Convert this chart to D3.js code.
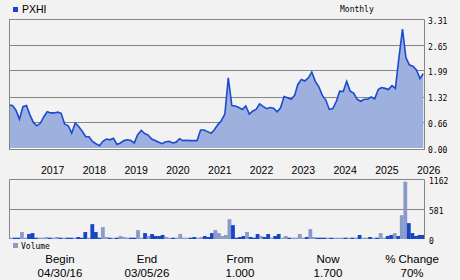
<!DOCTYPE html>
<html><head><meta charset="utf-8">
<script src="https://cdn.jsdelivr.net/npm/d3@7"></script>
<style>body{margin:0;background:#f2f2f2}svg{display:block}</style>
</head><body>
<svg id="c" width="460" height="280"></svg>
<script>
const symbol = "PXHI";
const periodLabel = "Monthly";
const priceStart = new Date(2016, 3, 5);
const priceValues = [
 1.10,1.09,0.97,0.74,1.06,1.09,0.85,0.65,0.57,0.64,
 0.81,0.93,0.90,0.90,0.92,0.89,0.61,0.57,0.38,0.64,
 0.55,0.43,0.29,0.29,0.17,0.11,0.06,0.17,0.23,0.21,
 0.25,0.09,0.13,0.19,0.21,0.19,0.13,0.34,0.45,0.37,
 0.33,0.23,0.19,0.15,0.11,0.16,0.17,0.13,0.15,0.24,
 0.19,0.20,0.19,0.19,0.19,0.46,0.46,0.42,0.38,0.47,
 0.60,0.70,0.87,1.80,1.09,1.08,1.04,0.99,1.08,0.87,
 0.95,0.99,1.13,1.07,1.01,1.04,1.02,0.93,1.03,1.32,
 1.29,1.25,1.35,1.63,1.76,1.72,1.80,1.95,1.71,1.57,
 1.35,1.23,0.99,1.01,1.20,1.46,1.45,1.71,1.46,1.41,
 1.25,1.20,1.25,1.25,1.31,1.26,1.50,1.55,1.53,1.50,
 1.60,1.53,2.32,3.05,2.32,2.13,2.10,2.00,1.78,1.91];
const volumeValues = [
 25,25,25,136,25,97,116,25,25,25,
 39,25,25,39,25,25,25,25,25,39,
 25,136,25,290,136,25,232,39,25,25,
 25,58,39,25,25,25,174,25,116,58,
 97,58,58,78,39,25,25,25,97,25,
 25,25,39,25,39,58,39,116,174,116,
 58,78,387,271,25,39,58,136,39,25,
 97,58,39,97,25,58,97,25,58,25,
 25,25,97,25,39,194,39,25,25,25,
 25,25,25,25,25,25,25,25,25,78,
 25,25,39,25,25,116,25,58,78,116,
 58,465,1120,310,116,58,78,78];
const volumeUp = [
 0,1,1,0,0,1,1,1,0,0,
 0,1,0,0,1,0,1,1,0,1,
 1,1,0,1,1,1,0,0,1,0,
 1,0,0,0,1,1,0,0,1,0,
 1,1,1,1,0,0,1,0,0,0,
 0,1,1,0,0,1,1,1,0,0,
 0,0,0,1,1,1,1,0,1,1,
 1,0,1,1,0,1,1,0,0,1,
 0,0,0,0,1,0,0,1,1,1,
 0,1,0,0,0,1,0,1,0,1,
 0,0,1,0,1,0,0,1,1,0,
 1,0,0,1,1,1,1,1];
const priceTicks = [0, 0.66, 1.32, 1.99, 2.65, 3.31];
const priceTickLabels = ["0.00","0.66","1.32","1.99","2.65","3.31"];
const volumeTicks = [0, 581, 1162];
const volumeTickLabels = ["0","581","1162"];
const years = [2017,2018,2019,2020,2021,2022,2023,2024,2025,2026];
const footHeads = ["Begin","End","From","Now","% Change"];
const footValues = ["04/30/16","03/05/26","1.000","1.700","70%"];

const C = {bg:"#f2f2f2", grid:"#858585", line:"#1a4bd0", fill:"#9eb0dd", dark:"#1546c8", light:"#8a9acb", text:"#000"};
const svg = d3.select("#c");
svg.append("rect").attr("width",460).attr("height",280).attr("fill",C.bg);

const L = 9, R = 424;
const x = d3.scaleTime().domain([new Date(2016,3,5), new Date(2026,2,12)]).range([L, R]);
const y = d3.scaleLinear().domain([0, 3.31]).range([148, 19]);
const price = priceValues.map((v,i)=>({d:d3.timeMonth.offset(priceStart,i), v}));

// grid
const g = svg.append("g");
priceTicks.slice(1).forEach(t=>{
  g.append("line").attr("x1",L).attr("x2",R).attr("y1",Math.round(y(t))+0.5).attr("y2",Math.round(y(t))+0.5)
   .attr("stroke",C.grid).attr("stroke-width",1);
});
// area + line
svg.append("path").datum(price)
  .attr("d", d3.area().x(p=>x(p.d)).y0(y(0)).y1(p=>y(p.v)))
  .attr("fill", C.fill);
svg.append("path").datum(price)
  .attr("d", d3.line().x(p=>x(p.d)).y(p=>y(p.v)))
  .attr("fill","none").attr("stroke",C.line).attr("stroke-width",1.6);
svg.append("line").attr("x1",L).attr("x2",R).attr("y1",148.5).attr("y2",148.5).attr("stroke","#fff").attr("stroke-width",1);
// frame
svg.append("path").attr("d",`M${L+0.5},149.5V${19.5}H${R+0.5}V149.5M${L},149.5H${R+1}`)
  .attr("fill","none").attr("stroke",C.grid).attr("stroke-width",1);

// price tick labels
svg.selectAll("text.pt").data(priceTicks).enter().append("text")
  .attr("x",428).attr("y",t=>y(t)+2).attr("dy","0.35em")
  .attr("font-family","DejaVu Sans Mono").attr("font-size",8)
  .text((t,i)=>priceTickLabels[i]);

// legend
svg.append("rect").attr("x",13).attr("y",7).attr("width",5).attr("height",5).attr("fill",C.dark);
svg.append("text").attr("x",22).attr("y",9.5).attr("dy","0.35em")
  .attr("font-family","Liberation Sans").attr("font-size",10.5).text(symbol);
svg.append("text").attr("x",340).attr("y",9).attr("dy","0.35em")
  .attr("font-family","DejaVu Sans Mono").attr("font-size",8).text(periodLabel);

// year labels
svg.selectAll("text.yr").data(years).enter().append("text")
  .attr("x",yr=>x(new Date(yr,0,1))+1).attr("y",170).attr("dy","0.35em")
  .attr("font-family","Liberation Sans").attr("font-size",10.5)
  .text(yr=>yr);

// volume panel
const yv = d3.scaleLinear().domain([0,1162]).range([239,179.5]);
const xb = d3.scaleBand().domain(volumeValues.map((v,i)=>i)).range([9.5,424.5]).paddingInner(0);
svg.append("line").attr("x1",L).attr("x2",R).attr("y1",209.5).attr("y2",209.5).attr("stroke",C.grid);
svg.selectAll("rect.vb").data(volumeValues).enter().append("rect")
  .attr("x",(v,i)=>xb(i)).attr("width",xb.bandwidth()+0.3)
  .attr("y",v=>yv(v)).attr("height",v=>yv(0)-yv(v))
  .attr("fill",(v,i)=>volumeUp[i]?C.dark:C.light);
svg.append("path").attr("d",`M${L+0.5},239V179.5H${R+0.5}V239`)
  .attr("fill","none").attr("stroke",C.grid).attr("stroke-width",1);
svg.selectAll("text.vt").data(volumeTicks).enter().append("text")
  .attr("x",429).attr("y",t=>yv(t)+2).attr("dy","0.35em")
  .attr("font-family","DejaVu Sans Mono").attr("font-size",8)
  .text((t,i)=>volumeTickLabels[i]);
svg.append("rect").attr("x",13).attr("y",243).attr("width",5).attr("height",5).attr("fill",C.light);
svg.append("text").attr("x",21).attr("y",246).attr("dy","0.35em")
  .attr("font-family","DejaVu Sans Mono").attr("font-size",8).text("Volume");

// footer
const fx = [60,147,240,328,412];
footHeads.forEach((h,i)=>{
  svg.append("text").attr("x",fx[i]).attr("y",259).attr("dy","0.35em").attr("text-anchor","middle")
    .attr("font-family","Liberation Sans").attr("font-size",11.5).text(h);
  svg.append("text").attr("x",fx[i]).attr("y",273).attr("dy","0.35em").attr("text-anchor","middle")
    .attr("font-family","Liberation Sans").attr("font-size",11.5).text(footValues[i]);
});
</script>
</body></html>
